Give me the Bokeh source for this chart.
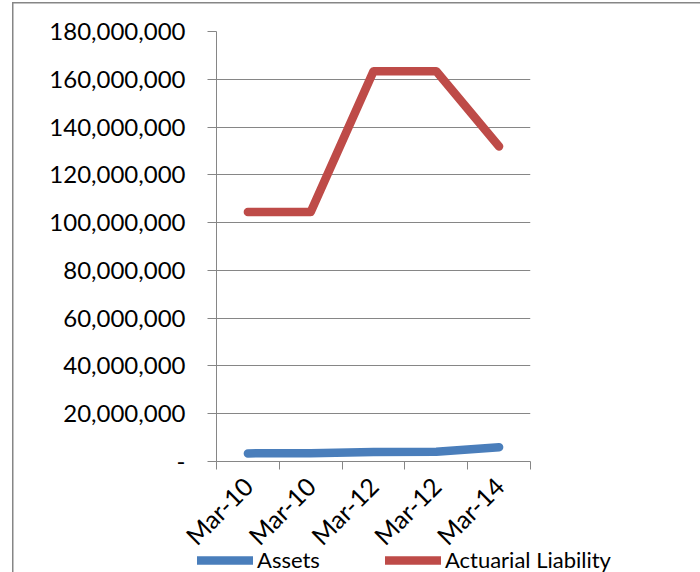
import math
from bokeh.plotting import figure
from bokeh.models import (FixedTicker, CustomJSTickFormatter, Legend, LegendItem,
                          Range1d, GridBox)
from bokeh.embed import file_html
from bokeh.resources import INLINE

categories = ["Mar-10", "Mar-10", "Mar-12", "Mar-12", "Mar-14"]
assets = [3400000, 3500000, 4000000, 4100000, 6000000]
liability = [104400000, 104400000, 163400000, 163400000, 131900000]
y_ticks = [0, 20000000, 40000000, 60000000, 80000000, 100000000,
           120000000, 140000000, 160000000, 180000000]
series_names = ["Assets", "Actuarial Liability"]
series_colors = ["#4A7EBB", "#BE4B48"]
series_values = [assets, liability]

FONT = "Lato"
GRAY = "#868686"
FS = "24px"
W, H = 688, 570

xs = list(range(len(categories)))

p = figure(width=W, height=H, output_backend="svg", toolbar_location=None,
           x_range=Range1d(-0.5, len(categories) - 0.5),
           y_range=Range1d(0, 180000000),
           min_border_left=204, min_border_right=170,
           min_border_top=29, min_border_bottom=111)
p.frame_align = False
p.styles = {"box-shadow": "inset 1.5px 1.5px 0 0 #868686"}
p.outline_line_color = None
p.background_fill_color = "white"
p.border_fill_color = None

for vals, col in zip(series_values, series_colors):
    p.line(xs, vals, line_color=col, line_width=8.5,
           line_cap="round", line_join="round")

# x axis
p.xaxis.ticker = FixedTicker(ticks=xs,
                             minor_ticks=[i - 0.5 for i in range(len(categories) + 1)])
p.xaxis.major_label_overrides = {i: c for i, c in enumerate(categories)}
p.xaxis.major_tick_out = 0
p.xaxis.major_tick_in = 0
p.xaxis.minor_tick_out = 8
p.xaxis.minor_tick_in = 0
p.xaxis.minor_tick_line_color = GRAY
p.xaxis.axis_line_color = GRAY
p.xaxis.major_label_orientation = math.pi / 4
p.xaxis.major_label_text_font = FONT
p.xaxis.major_label_text_font_size = "25px"
p.xaxis.major_label_text_color = "black"
p.xaxis.major_label_standoff = 12

# y axis
p.yaxis.ticker = FixedTicker(ticks=y_ticks, minor_ticks=[])
p.yaxis.formatter = CustomJSTickFormatter(
    code="return tick == 0 ? '-' : Math.round(tick).toLocaleString('en-US');")
p.yaxis.major_tick_out = 9
p.yaxis.major_tick_in = 0
p.yaxis.major_tick_line_color = GRAY
p.yaxis.axis_line_color = GRAY
p.yaxis.major_label_text_font = FONT
p.yaxis.major_label_text_font_size = FS
p.yaxis.major_label_text_color = "black"
p.yaxis.major_label_standoff = 22

p.xgrid.grid_line_color = None
p.ygrid.grid_line_color = GRAY
p.ygrid.grid_line_width = 1

# transparent overlay figure that carries the legend (its series lie outside its ranges)
lf = figure(width=W, height=H, output_backend="svg", toolbar_location=None,
            x_range=Range1d(0, 1), y_range=Range1d(0, 1),
            x_axis_location=None, y_axis_location=None,
            min_border=0)
lf.frame_align = False
lf.grid.visible = False
lf.outline_line_color = None
lf.background_fill_color = None
lf.border_fill_color = None
items = []
for name, vals, col in zip(series_names, series_values, series_colors):
    r = lf.line(xs, vals, line_color=col, line_width=8.5, line_cap="round")
    items.append(LegendItem(label=name, renderers=[r]))
legend = Legend(items=items, orientation="horizontal", location=(185, -1),
                glyph_width=56, glyph_height=20, label_standoff=4, spacing=65,
                padding=0, margin=0, border_line_color=None,
                background_fill_alpha=0,
                label_text_font=FONT, label_text_font_size="22px",
                label_text_color="black")
lf.add_layout(legend, "center")

grid = GridBox(children=[(p, 0, 0), (lf, 0, 0)], margin=(2, 0, 0, 12))

open("out.html", "w").write(file_html(grid, INLINE))
